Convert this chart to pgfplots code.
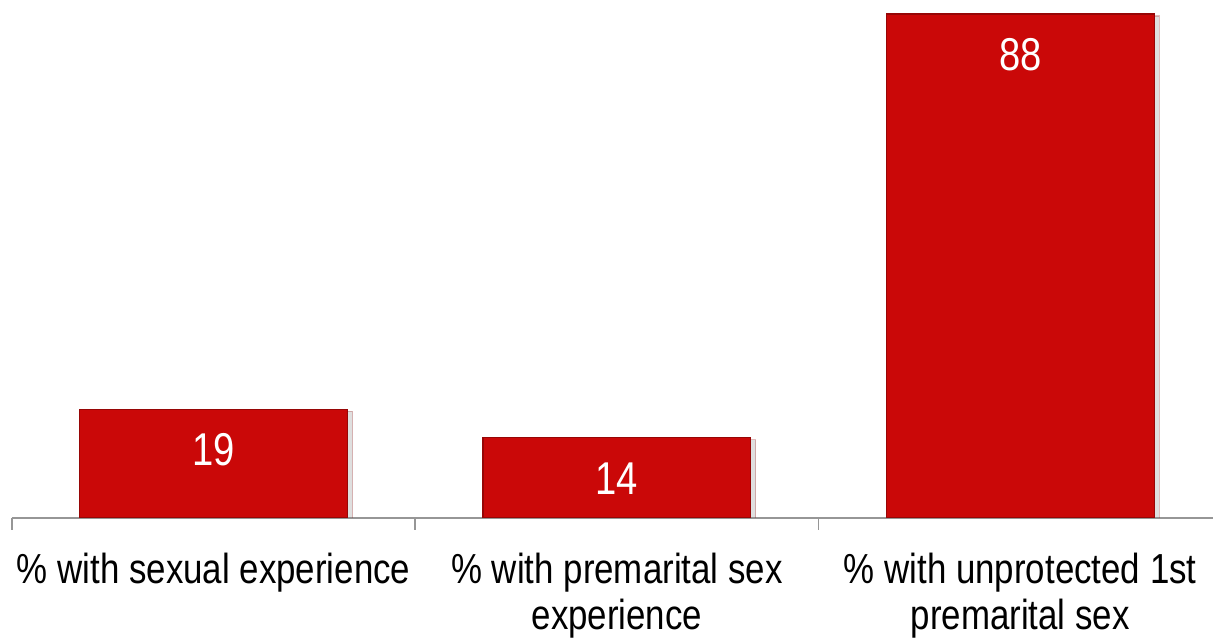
\documentclass[border=0pt]{standalone}
\usepackage{fontspec}
\setmainfont{Liberation Sans}[FakeStretch=0.83]
\usepackage{pgfplots}
\pgfplotsset{compat=1.18}
\usetikzlibrary{shadows}
\definecolor{barred}{RGB}{202,8,8}
\definecolor{axgray}{RGB}{150,150,150}

\begin{document}
\begin{tikzpicture}
\begin{axis}[
    name=ax,
    width=600.5pt, height=259pt, scale only axis,
    ybar, bar width=0.664,
    xmin=-0.5, xmax=2.478,
    ymin=0, ymax=90.44,
    axis x line*=bottom,
    axis y line=none,
    x axis line style={axgray, line width=0.9pt},
    xtick={0,1,2},
    xticklabels={{\% with sexual experience},
                 {\% with premarital sex\\experience},
                 {\% with unprotected 1st\\premarital sex}},
    major tick length=0pt,
    minor xtick={-0.5,0.5,1.5},
    minor tick length=6pt,
    tick align=outside,
    minor tick style={axgray, line width=0.9pt},
    xticklabel style={font=\fontsize{21}{23}\selectfont, align=center,
                      anchor=north, yshift=-14pt},
    /pgf/number format/assume math mode=true,
    nodes near coords,
    nodes near coords style={font=\fontsize{23}{23}\selectfont, color=white,
                             anchor=north, inner sep=0pt, yshift=-12pt},
]
\addplot[fill=barred, draw=barred!75!black, line width=0.6pt,
         drop shadow={shadow xshift=2.5pt, shadow yshift=-1pt, opacity=0.25}]
    coordinates {(0,19) (1,14) (2,88)};
\end{axis}
\pgfresetboundingbox
\path[use as bounding box] ([xshift=-6pt,yshift=-61pt]ax.south west) rectangle (ax.north east);
\end{tikzpicture}
\end{document}
